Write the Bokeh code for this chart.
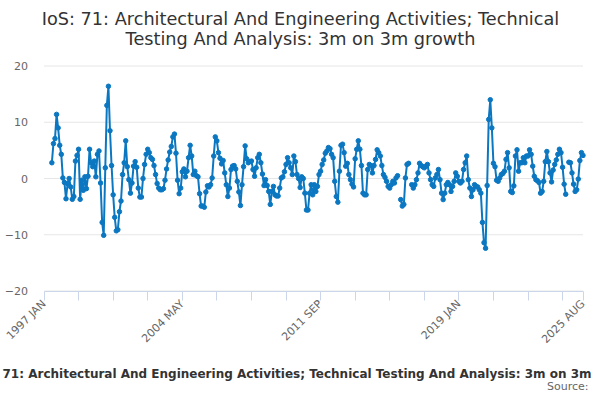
import math
from bokeh.plotting import figure
from bokeh.models import Range1d, FixedTicker, Label
from bokeh.embed import file_html
from bokeh.resources import INLINE

# ---- categories (months 1997 JAN .. 2025 AUG) ----
month_names = ["JAN", "FEB", "MAR", "APR", "MAY", "JUN",
               "JUL", "AUG", "SEP", "OCT", "NOV", "DEC"]
months = [f"{y} {m}" for y in range(1997, 2026) for m in month_names]
months = months[: months.index("2025 AUG") + 1]

# ---- series values (3m on 3m growth, %), one list per year ----
v1997 = [None, None, None, None, None, 2.8, 6.2, 7.1, 11.4, 9.0, 5.9, 4.3]
v1998 = [0.1, -0.7, -3.6, -0.9, 0.0, -1.5, -3.7, -3.2, 3.1, 4.1, 5.2, -3.7]
v1999 = [-0.3, -2.1, 0.3, -1.8, 0.4, 5.2, 2.8, 2.1, 3.1, 0.3, 4.3, 4.9]
v2000 = [-0.8, -7.8, -10.1, 1.9, 13.0, 16.4, 8.5, 2.3, -2.9, -6.9, -9.3, -9.1]
v2001 = [-5.9, -4.0, 0.7, 2.8, 6.7, 2.1, -0.2, -2.6, -0.8, 2.2, 3.0, 2.0]
v2002 = [-1.7, -3.3, -3.3, 0.0, 2.5, 4.3, 5.2, 4.6, 3.7, 3.4, 2.3, 0.7]
v2003 = [-0.9, -1.7, -2.0, -2.0, -1.8, -0.3, 1.7, 3.3, 4.7, 5.7, 7.4, 7.9]
v2004 = [4.5, -0.3, -2.7, -1.7, 1.2, 1.7, 0.3, 1.3, 3.7, 5.9, 4.0, 0.7]
v2005 = [1.3, 0.5, 0.3, -2.7, -4.9, -4.9, -5.1, -2.4, -1.3, -1.5, -1.1, 0.1]
v2006 = [4.0, 7.4, 6.7, 4.6, 3.6, 2.6, 3.2, 1.0, -1.1, -3.2, -1.7, 1.6]
v2007 = [2.2, 2.3, 1.7, -0.5, -2.4, -4.8, -1.1, 2.1, 5.8, 3.5, 2.8, 3.0]
v2008 = [3.1, 1.6, 0.4, 1.9, 3.7, 4.3, 2.8, 0.8, -1.25, -0.2, -1.25, -2.3]
v2009 = [-4.6, -2.3, -1.4, -2.9, -3.1, -3.1, -1.7, 0.1, 0.3, 1.2, 2.5, 3.7]
v2010 = [2.8, 1.9, 0.7, 4.0, 3.0, 0.7, 0.0, -1.6, 0.3, 0.0, -2.6, -5.6]
v2011 = [-5.6, -2.6, -1.1, -2.9, -1.1, -2.3, -1.4, 0.7, 1.3, 2.5, 3.3, 4.5]
v2012 = [4.9, 5.5, 5.3, 4.3, 3.7, -0.5, -3.2, -4.2, 1.3, 5.9, 6.1, 4.6]
v2013 = [2.2, 2.7, 0.7, -0.2, -1.0, -1.5, 3.5, 5.2, 6.7, 5.2, 2.3, -2.6]
v2014 = [-2.9, -2.9, 1.6, 2.5, 2.3, 1.0, 2.3, 3.4, 5.1, 4.6, 4.0, 2.3]
v2015 = [0.7, 0.2, -0.5, -1.4, -1.7, -1.1, -0.5, -0.8, 0.1, 0.5, None, -3.75]
v2016 = [-4.9, -4.6, 0.1, 2.5, 2.7, None, -1.1, -1.7, -1.1, -0.2, 1.0, 2.7]
v2017 = [2.3, 2.1, 1.9, 2.2, 2.5, 1.0, -0.2, -1.1, -1.4, 0.1, 0.7, 1.6]
v2018 = [-0.2, -2.6, -3.75, -2.6, -1.1, -0.7, -1.1, -2.3, -1.4, -0.5, 1.0, 0.4]
v2019 = [-0.5, -0.8, -0.5, 1.6, 2.8, 4.0, -0.2, -1.7, -3.2, -2.0, -1.1, -1.4]
v2020 = [-1.5, -2.0, -2.6, -7.8, -11.4, -12.4, -1.25, 10.5, 14.0, 9.0, 2.7, 2.1]
v2021 = [-0.3, -0.5, 0.1, 0.7, 0.9, 1.3, 3.4, 4.6, 1.9, -2.3, -2.5, -1.3]
v2022 = [4.0, 5.1, 1.3, 2.8, 2.8, 3.7, 2.8, 4.0, 4.0, 5.1, 4.3, 2.2]
v2023 = [0.4, -0.2, -0.4, -0.7, -2.6, -2.3, -0.5, 3.0, 4.8, 3.0, 1.0, -0.6]
v2024 = [1.5, 2.5, 3.3, 4.3, 5.2, 4.6, 2.0, -1.0, -2.8, None, 2.9, 2.8]
v2025 = [1.0, -1.0, -2.3, -2.0, -0.1, 3.2, 4.6, 4.1]

values = (v1997 + v1998 + v1999 + v2000 + v2001 + v2002 + v2003 + v2004 +
          v2005 + v2006 + v2007 + v2008 + v2009 + v2010 + v2011 + v2012 +
          v2013 + v2014 + v2015 + v2016 + v2017 + v2018 + v2019 + v2020 +
          v2021 + v2022 + v2023 + v2024 + v2025)

y_ticks = [-20, -10, 0, 10, 20]
title_line1 = "IoS: 71: Architectural And Engineering Activities; Technical"
title_line2 = "Testing And Analysis: 3m on 3m growth"
subtitle = "71: Architectural And Engineering Activities; Technical Testing And Analysis: 3m on 3m"
source_text = "Source:"

n = len(months)
xs = list(range(n))
ys = [float("nan") if v is None else v for v in values]

tick_step = 22
label_step = 88
x_ticks = list(range(0, n, tick_step))
if x_ticks[-1] != n - 1:
    x_ticks.append(n - 1)
labelled = set(range(0, n, label_step)) | {n - 1}
overrides = {t: (months[t] if t in labelled else "") for t in x_ticks}

# ---- layout (canvas pixels) ----
W, H = 592, 392
PLOT_L, PLOT_R = 43.5, 582.5    # pixel x of first / last month
PLOT_T, PLOT_B = 65.5, 290.5    # pixel y of top / bottom of value axis
y_min, y_max = y_ticks[0], y_ticks[-1]
x_first, x_last = 0, n - 1
sx = (PLOT_R - PLOT_L) / (x_last - x_first)
sy = (PLOT_B - PLOT_T) / (y_max - y_min)
x_range = Range1d(x_first - PLOT_L / sx, x_last + (W - PLOT_R) / sx)
y_range = Range1d(y_min - (H - PLOT_B) / sy, y_max + PLOT_T / sy)

COLOR = "#0b77c1"
FONT = "DejaVu Sans"

p = figure(width=W, height=H, output_backend="svg", toolbar_location=None,
           x_range=x_range, y_range=y_range, title_location=None,
           min_border=0, min_border_left=0, min_border_right=0,
           min_border_top=0, min_border_bottom=0)
p.outline_line_color = None
p.background_fill_color = "white"
p.border_fill_color = "white"
p.xgrid.visible = False
p.ygrid.visible = False

# horizontal grid lines at the value ticks, spanning the category extent
p.segment(x0=[x_first] * len(y_ticks), x1=[x_last] * len(y_ticks),
          y0=y_ticks, y1=y_ticks, line_color="#e6e6e6", line_width=1)

yax = p.yaxis[0]
yax.fixed_location = x_first
yax.ticker = FixedTicker(ticks=y_ticks, minor_ticks=[])
yax.axis_line_color = None
yax.major_tick_line_color = None
yax.minor_tick_line_color = None
yax.major_tick_out = 0
yax.major_tick_in = 0
yax.major_label_standoff = 16
yax.major_label_text_font = FONT
yax.major_label_text_font_size = "11px"
yax.major_label_text_color = "#666666"

xax = p.xaxis[0]
xax.fixed_location = y_min
xax.bounds = (x_first, x_last)
xax.ticker = FixedTicker(ticks=x_ticks, minor_ticks=[])
xax.major_label_overrides = overrides
xax.major_label_orientation = math.pi / 4
xax.axis_line_color = "#ccd6eb"
xax.major_tick_line_color = "#ccd6eb"
xax.major_tick_out = 9
xax.major_tick_in = 0
xax.minor_tick_line_color = None
xax.major_label_standoff = 2
xax.major_label_text_font = FONT
xax.major_label_text_font_size = "11px"
xax.major_label_text_color = "#666666"

p.line(xs, ys, line_color=COLOR, line_width=2)
p.scatter(xs, ys, size=4.5, fill_color=COLOR, line_color=COLOR)

# texts (screen units: x from canvas left, y from canvas bottom; y = text middle)
def add_text(x, y_top, text, size, color, align="center", style="normal"):
    p.add_layout(Label(x=x, y=H - y_top, x_units="screen", y_units="screen", text=text,
                       text_align=align, text_baseline="middle",
                       text_font=FONT, text_font_size=size, text_font_style=style,
                       text_color=color))

add_text(300, 18, title_line1, "17.7px", "#333333")
add_text(300, 38.5, title_line2, "17.7px", "#333333")
add_text(296.5, 373, subtitle, "12px", "#333333", style="bold")
add_text(588, 385.5, source_text, "11px", "#666666", align="right")

open("out.html", "w").write(file_html(p, INLINE))
